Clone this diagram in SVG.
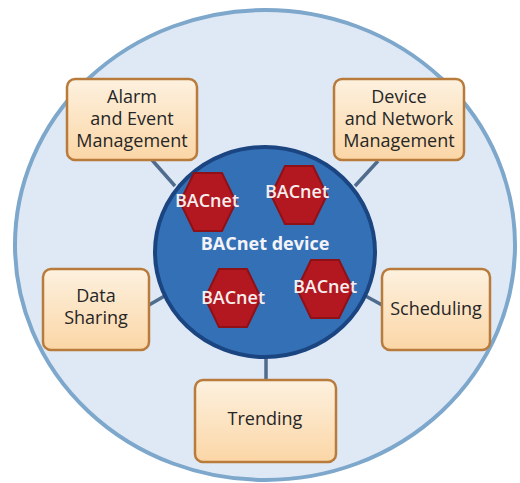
<svg xmlns="http://www.w3.org/2000/svg" width="520" height="483" viewBox="0 0 520 483">
<defs>
<linearGradient id="boxg" x1="0" y1="0" x2="0" y2="1">
<stop offset="0" stop-color="#fdf1df"/>
<stop offset="1" stop-color="#fbd6a6"/>
</linearGradient>
<style>
.box{fill:url(#boxg);stroke:#b97b3c;stroke-width:2.5}
.lbl{font-family:"Open Sans","Noto Sans",sans-serif;font-size:18px;fill:#262626;text-anchor:middle}
.hex{fill:#b3171f;stroke:#8e1118;stroke-width:2}
.hl{font-family:"Open Sans","Noto Sans",sans-serif;font-size:18px;font-weight:600;fill:#f6eeee;text-anchor:middle}
.conn{stroke:#4f6b8d;stroke-width:3.5;fill:none}
</style>
</defs>
<rect width="520" height="483" fill="#ffffff"/>
<g id="outer">
<ellipse cx="265" cy="245" rx="250" ry="235" fill="#dfe9f5" stroke="#7ea7cc" stroke-width="4"/>
</g>
<g id="connectors">
<line class="conn" x1="152" y1="160" x2="175" y2="186"/>
<line class="conn" x1="378" y1="161" x2="355" y2="186"/>
<line class="conn" x1="149" y1="305" x2="168" y2="294"/>
<line class="conn" x1="362" y1="294" x2="382" y2="305"/>
<line class="conn" x1="266" y1="355" x2="266" y2="381"/>
</g>
<g id="device">
<ellipse cx="265" cy="252" rx="110" ry="105" fill="#3470b6" stroke="#1b4580" stroke-width="4"/>
<text x="265" y="250" font-family="'Open Sans','Noto Sans',sans-serif" font-size="18" font-weight="bold" fill="#f4f4f8" text-anchor="middle">BACnet device</text>
</g>
<g id="hex1">
<polygon class="hex" points="194,173 222,173 236,202 222,231 194,231 180,202"/>
<text class="hl" x="207" y="207">BACnet</text>
</g>
<g id="hex2">
<polygon class="hex" points="285,166 313,166 327,195 313,224 285,224 271,195"/>
<text class="hl" x="297" y="198">BACnet</text>
</g>
<g id="hex3">
<polygon class="hex" points="219,269 247,269 261,298 247,327 219,327 205,298"/>
<text class="hl" x="233" y="304">BACnet</text>
</g>
<g id="hex4">
<polygon class="hex" points="311,260 339,260 353,289 339,318 311,318 297,289"/>
<text class="hl" x="325" y="293">BACnet</text>
</g>
<g id="alarm">
<rect class="box" x="67" y="79" width="130" height="81" rx="8"/>
<text class="lbl" x="132" y="103">Alarm</text>
<text class="lbl" x="132" y="125">and Event</text>
<text class="lbl" x="132" y="147">Management</text>
</g>
<g id="devnet">
<rect class="box" x="334" y="79" width="130" height="81" rx="8"/>
<text class="lbl" x="399" y="103">Device</text>
<text class="lbl" x="399" y="125">and Network</text>
<text class="lbl" x="399" y="147">Management</text>
</g>
<g id="datasharing">
<rect class="box" x="43" y="269" width="106" height="81" rx="8"/>
<text class="lbl" x="96" y="302">Data</text>
<text class="lbl" x="96" y="324">Sharing</text>
</g>
<g id="scheduling">
<rect class="box" x="382" y="269" width="108" height="81" rx="8"/>
<text class="lbl" x="436" y="315">Scheduling</text>
</g>
<g id="trending">
<rect class="box" x="195" y="380" width="141" height="82" rx="8"/>
<text class="lbl" x="265" y="425">Trending</text>
</g>
</svg>
